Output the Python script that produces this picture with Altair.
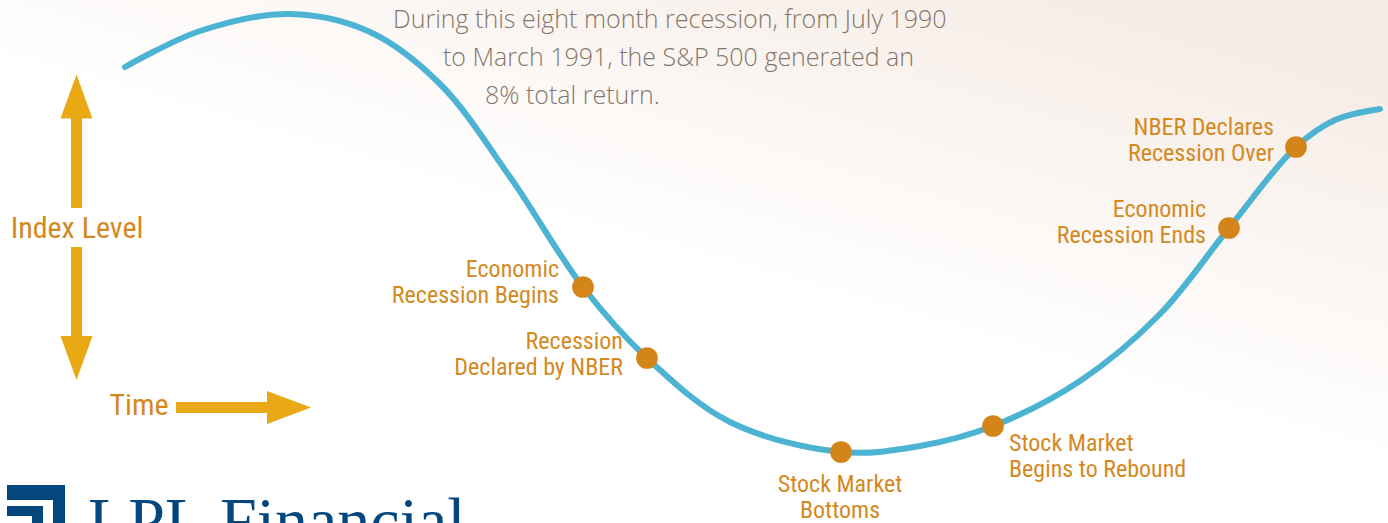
import altair as alt
import pandas as pd

W, H = 1388, 523

# Schematic S&P 500 path (time, index level in drawing units, top-down)
curve_t = [125, 200, 290, 370, 440, 510, 583, 647, 730, 841, 920, 993, 1080, 1160, 1229, 1296, 1335, 1380]
curve_v = [67, 31, 14, 32, 84, 177, 287, 358, 422, 452, 446, 426, 381, 314, 228, 147, 120, 109]

# Event dots
dot_t = [583, 647, 841, 993, 1229, 1296]
dot_v = [287, 358, 452, 426, 228, 147]

# Event labels (one row per line)
lab_text = ["Economic", "Recession Begins", "Recession", "Declared by NBER",
            "Stock Market", "Bottoms", "Stock Market", "Begins to Rebound",
            "Economic", "Recession Ends", "NBER Declares", "Recession Over"]
lab_t = [559, 559, 623, 623, 840, 840, 1009, 1009, 1206, 1206, 1274, 1274]
lab_v = [270, 296, 342, 368, 485, 511, 444, 470, 210, 236, 128, 154]
lab_align = ["right", "right", "right", "right", "center", "center", "left", "left",
             "right", "right", "right", "right"]

# Note text lines
note_text = ["During this eight month recession, from July 1990",
             "to March 1991, the S&P 500 generated an",
             "8% total return."]
note_t = [393, 443, 485]
note_v = [20, 58, 96]

# Axis-arrow pieces
shaft_x = [76.5, 76.5]
shaft_y = [118, 247]
shaft_y2 = [208, 336]
hshaft = pd.DataFrame({"x": [176], "x2": [268], "y": [407.5]})
heads = pd.DataFrame({"x": [76.5, 76.5, 289], "y": [96.5, 358, 407.5],
                      "shape": ["up", "down", "right"]})
axis_text = ["Index Level", "Time"]
axis_t = [77, 139]
axis_v = [229, 406]

# Logo pieces
logo_x = [7, 53, 7, 32]
logo_x2 = [65, 65, 43, 43]
logo_y = [485, 485, 506, 506]
logo_y2 = [500, 530, 516, 530]
logo_text = ["LPL", "Financial"]
logo_t = [88, 220]
logo_v = [543, 543]

ORANGE = "#D4891E"
GOLD = "#E9A915"
BLUE = "#4DB3D3"
DOT = "#D4851A"
NAVY = "#04477F"
LABEL_FONT = "Liberation Sans Narrow, Roboto Condensed, DejaVu Sans Condensed, sans-serif"

xs = alt.Scale(domain=[0, W], nice=False, zero=False)
ys = alt.Scale(domain=[0, H], nice=False, zero=False, reverse=True)
X = lambda f: alt.X(f, type="quantitative", scale=xs, axis=None)
Y = lambda f: alt.Y(f, type="quantitative", scale=ys, axis=None)

curve_df = pd.DataFrame({"t": curve_t, "v": curve_v})
dot_df = pd.DataFrame({"t": dot_t, "v": dot_v})
lab_df = pd.DataFrame({"text": lab_text, "t": lab_t, "v": lab_v, "align": lab_align})
note_df = pd.DataFrame({"text": note_text, "t": note_t, "v": note_v})
shaft_df = pd.DataFrame({"x": shaft_x, "y": shaft_y, "y2": shaft_y2})
axis_df = pd.DataFrame({"text": axis_text, "t": axis_t, "v": axis_v})
logo_df = pd.DataFrame({"x": logo_x, "x2": logo_x2, "y": logo_y, "y2": logo_y2})
logo_tdf = pd.DataFrame({"text": logo_text, "t": logo_t, "v": logo_v})

bg = alt.Chart(pd.DataFrame({"a": [0]})).mark_rect(
    fill=alt.LinearGradient(
        gradient="linear",
        stops=[alt.GradientStop(color="#FFFFFF", offset=0),
               alt.GradientStop(color="#FFFFFF", offset=0.45),
               alt.GradientStop(color="#F6ECE5", offset=1)],
        x1=0.35, y1=1, x2=1, y2=0.15),
    stroke=None
).encode(x=alt.value(0), x2=alt.value(W), y=alt.value(0), y2=alt.value(H))

line = alt.Chart(curve_df).mark_line(
    color=BLUE, strokeWidth=6, interpolate="catmull-rom", strokeCap="round"
).encode(x=X("t"), y=Y("v"), order="t:Q")

dots = alt.Chart(dot_df).mark_circle(color=DOT, opacity=1, size=470).encode(x=X("t"), y=Y("v"))

def labels(align):
    return alt.Chart(lab_df[lab_df["align"] == align]).mark_text(
        align=align, baseline="middle", font=LABEL_FONT, fontSize=24, color=ORANGE
    ).encode(x=X("t"), y=Y("v"), text="text:N")

note = alt.Chart(note_df).mark_text(
    align="left", baseline="middle", font="Open Sans, Liberation Sans, sans-serif",
    fontSize=25, fontWeight=300, color="#85776A"
).encode(x=X("t"), y=Y("v"), text="text:N")

shafts = alt.Chart(shaft_df).mark_rule(color=GOLD, strokeWidth=11, strokeCap="butt").encode(
    x=X("x"), y=Y("y"), y2="y2")
hshaft_c = alt.Chart(hshaft).mark_rule(color=GOLD, strokeWidth=11, strokeCap="butt").encode(
    x=X("x"), x2="x2", y=Y("y"))

def head(kind, path, size):
    return alt.Chart(heads[heads["shape"] == kind]).mark_point(
        shape=path, filled=True, color=GOLD, opacity=1, size=size, strokeWidth=0
    ).encode(x=X("x"), y=Y("y"))

head_up = head("up", "M0,-1L0.727,1L-0.727,1Z", 44 * 44)
head_down = head("down", "M0,1L0.727,-1L-0.727,-1Z", 44 * 44)
head_right = head("right", "M1,0L-1,0.75L-1,-0.75Z", 44 * 44)

axis_lab = alt.Chart(axis_df).mark_text(
    align="center", baseline="middle", font=LABEL_FONT, fontSize=30, color=ORANGE
).encode(x=X("t"), y=Y("v"), text="text:N")

logo = alt.Chart(logo_df).mark_rect(color=NAVY).encode(x=X("x"), x2="x2", y=Y("y"), y2="y2")
logo_t_c = alt.Chart(logo_tdf).mark_text(
    align="left", baseline="alphabetic", font="Liberation Serif, Times New Roman, serif",
    fontSize=66, color=NAVY
).encode(x=X("t"), y=Y("v"), text="text:N")

chart = alt.layer(
    bg, line, dots, labels("right"), labels("center"), labels("left"), note,
    shafts, hshaft_c, head_up, head_down, head_right, axis_lab, logo, logo_t_c
).properties(
    width=W, height=H, padding=0, autosize=alt.AutoSizeParams(type="none")
).configure_view(stroke=None).configure(background="#FFFFFF")

chart.save("out.html", embed_options={"renderer": "svg", "actions": False})
